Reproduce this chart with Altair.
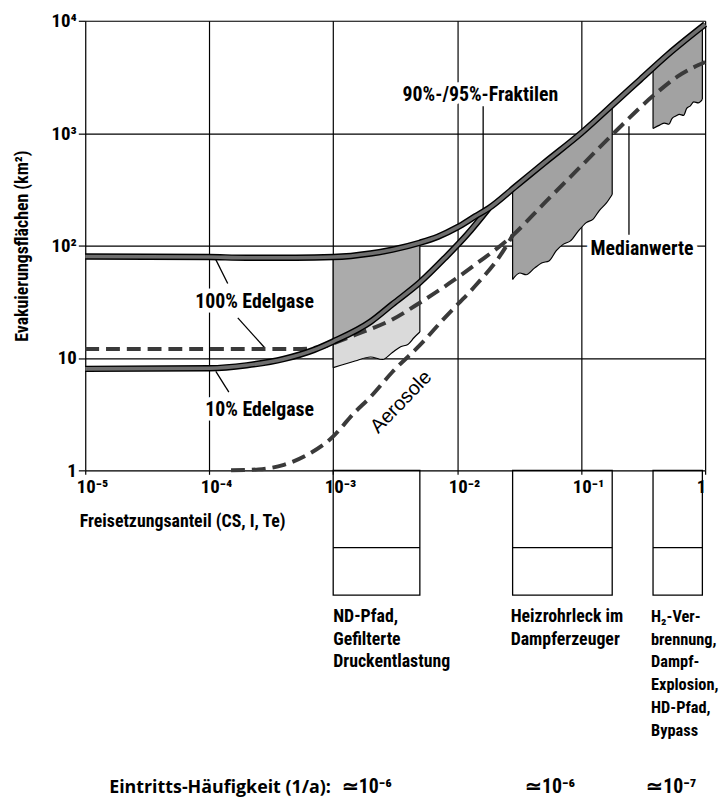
import json
import altair as alt
import pandas as pd

COND = "'Roboto Condensed', 'Open Sans Condensed', sans-serif"
PLAIN = "'Liberation Sans', Arial, sans-serif"
HUMAN = "'Open Sans', Lato, sans-serif"

# ---------------- axis ticks ----------------
x_ticks = [1e-5, 1e-4, 1e-3, 1e-2, 1e-1, 1]
x_tick_labels = ["10⁻⁵", "10⁻⁴", "10⁻³", "10⁻²", "10⁻¹", "\u20091"]
y_ticks = [1, 10, 100, 1000, 10000]
y_tick_labels = ["1\u2002", "10\u2002", "10²", "10³", "10⁴"]

# ---------------- curves ----------------
# upper solid curve (100% Edelgase / 95%-Fraktile)
upper_x = [1e-5, 1e-4, 2e-4, 5e-4, 1e-3, 2e-3, 3e-3, 5e-3, 7e-3, 1e-2, 1.4e-2, 1.8e-2,
           3e-2, 5e-2, 0.1, 0.2, 0.3, 0.5, 0.7, 1.0]
upper_y = [80, 79, 78, 78, 79, 85, 92, 106, 120, 145, 182, 215,
           340, 540, 1000, 2000, 3000, 5000, 6800, 9300]
# lower solid curve (10% Edelgase / 90%-Fraktile)
lower_x = [1e-5, 1e-4, 2e-4, 4e-4, 7e-4, 1e-3, 2e-3, 3e-3, 5e-3, 8e-3, 1.2e-2, 1.8e-2]
lower_y = [8.0, 8.1, 8.6, 9.8, 11.8, 14, 21, 30, 47, 78, 125, 215]
# median, noble gases, continuing as common median
med_ng_x = [1e-5, 1e-4, 5e-4, 8e-4, 1e-3, 1.5e-3, 3e-3, 5e-3, 8.6e-3, 1.43e-2, 2.8e-2,
            5e-2, 0.1, 0.19, 0.39, 0.6, 1.0]
med_ng_y = [12, 12, 12, 12.5, 13.5, 16, 22, 31, 46, 69, 123,
            236, 510, 1040, 2200, 3200, 4300]
# median, aerosols
med_ae_x = [1.5e-4, 2.5e-4, 4e-4, 6e-4, 9.5e-4, 1.5e-3, 2e-3, 3e-3, 5e-3, 8e-3, 1.43e-2, 2.2e-2, 2.8e-2]
med_ae_y = [1.0, 1.02, 1.12, 1.35, 1.9, 3.3, 4.5, 7.5, 13, 23, 45, 80, 123]

# ---------------- shaded ranges ----------------
nd_x = [1e-3, 1.5e-3, 2e-3, 2.5e-3, 3e-3, 3.5e-3, 4e-3, 4.5e-3, 5e-3]
nd_top = [79, 82, 85, 88, 92, 96, 99, 103, 106]
nd_mid = [14, 17.5, 21, 25, 30, 35, 39, 43, 47]
nd_bottom = [8.2, 9.4, 10.2, 9.7, 11.2, 12.6, 13.2, 15.2, 17]

hz_x = [0.028, 0.032, 0.036, 0.042, 0.048, 0.055, 0.063, 0.072, 0.082, 0.095, 0.11, 0.125, 0.14, 0.16, 0.178]
hz_top = [320, 359, 398, 457, 515, 581, 656, 738, 830, 945, 1100, 1250, 1400, 1600, 1780]
hz_bottom = [50, 57, 55, 63, 70, 73, 90, 103, 110, 135, 160, 172, 205, 240, 285]

rt_x = [0.38, 0.43, 0.47, 0.51, 0.54, 0.58, 0.62, 0.67, 0.71, 0.76, 0.81, 0.88, 0.95]
rt_top = [3800, 4300, 4700, 5100, 5400, 5800, 6150, 6550, 6950, 7450, 7900, 8600, 9100]
rt_bottom = [1100, 1180, 1230, 1200, 1350, 1420, 1470, 1440, 1660, 1750, 1900, 1860, 2000]

edge_x = [1e-3, 5e-3, 0.028, 0.178, 0.38, 0.95]
edge_lo = [8.2, 17, 50, 285, 1100, 2000]
edge_hi = [79, 106, 320, 1780, 3800, 9100]

# ---------------- release-path boxes below the axis ----------------
box_x1 = [1e-3, 0.028, 0.38]
box_x2 = [5e-3, 0.178, 0.95]
box_top = [1.0, 1.0, 1.0]
box_mid = [0.2055, 0.2055, 0.2055]
box_bottom = [0.0776, 0.0776, 0.0776]

case_text = ["ND-Pfad,\nGefilterte\nDruckentlastung",
             "Heizrohrleck im\nDampferzeuger"]
case_x = [1.0e-3, 0.027]
case_y = [0.0449, 0.0449]
case3_text = ["H₂-Ver-\nbrennung,\nDampf-\nExplosion,\nHD-Pfad,\nBypass"]
case3_x = [0.366]
case3_y = [0.0449]

freq_head = ["Eintritts-Häufigkeit (1/a):"]
freq_head_x = [1.56e-5]
freq_text = ["≃10⁻⁶", "≃10⁻⁶", "≃10⁻⁷"]
freq_x = [1.17e-3, 0.0352, 0.335]
freq_y = [1.34e-3, 1.34e-3, 1.34e-3]

# ---------------- labels in the plot ----------------
lab_text = ["90%-/95%-Fraktilen", "Medianwerte", "100% Edelgase", "10% Edelgase"]
lab_x = [0.0154, 0.31, 2.32e-4, 2.55e-4]
lab_y = [1930, 83, 27.9, 3.05]

ae_text = ["Aerosole"]
ae_x = [3.53e-3]
ae_y = [4.05]

lead_x1 = [0.0162, 0.243, 1.41e-4, 1.7e-4, 1.44e-4]
lead_y1 = [1740, 125, 46, 22.7, 4.97]
lead_x2 = [0.0162, 0.243, 1.13e-4, 2.79e-4, 1.13e-4]
lead_y2 = [210, 1150, 75, 12.4, 7.6]

# ---------------- scales / axes ----------------
xscale = alt.Scale(type="log", domain=[1e-5, 1])
yscale = alt.Scale(type="log", domain=[1, 1e4])

x_axis = alt.Axis(
    values=x_ticks,
    labelExpr=json.dumps(x_tick_labels, ensure_ascii=False) + "[round(log(datum.value)/LN10)+5]",
    grid=True, gridColor="black", gridWidth=1.2, gridOpacity=1,
    domain=False, ticks=True, tickSize=4, tickColor="black", tickWidth=1.2,
    labelFont=COND, labelFontSize=19, labelFontWeight="bold", labelColor="black",
    labelAlign="left", labelOffset=-9, labelPadding=3, labelFlush=False, labelOverlap=False,
    title="Freisetzungsanteil (CS, I, Te)", titleFont=COND, titleFontSize=18,
    titleFontWeight="bold", titleColor="black", titleX=-6, titleY=57,
    titleAlign="left", titleAnchor="start", titleBaseline="alphabetic",
)
y_axis = alt.Axis(
    values=y_ticks,
    labelExpr=json.dumps(y_tick_labels, ensure_ascii=False) + "[round(log(datum.value)/LN10)]",
    grid=True, gridColor="black", gridWidth=1.2, gridOpacity=1,
    domain=False, ticks=True, tickSize=7, tickColor="black", tickWidth=1.2,
    labelFont=COND, labelFontSize=19, labelFontWeight="bold", labelColor="black",
    labelPadding=2, labelFlush=False, labelOverlap=False,
    title="Evakuierungsflächen (km²)", titleFont=COND, titleFontSize=18,
    titleFontWeight="bold", titleColor="black", titleX=-63, titleY=227,
    titleBaseline="middle", titleAlign="center", titleAngle=270,
)


def X(field="x"):
    return alt.X(f"{field}:Q", scale=xscale, axis=x_axis)


def Y(field="y"):
    return alt.Y(f"{field}:Q", scale=yscale, axis=y_axis)


def frame(**cols):
    return pd.DataFrame(cols)


layers = []

# shaded ranges
layers.append(alt.Chart(frame(x=nd_x, y=nd_bottom, y2=nd_top)).mark_area(
    color="#dadada", interpolate="monotone").encode(x=X(), y=Y(), y2="y2:Q"))
layers.append(alt.Chart(frame(x=nd_x, y=nd_mid, y2=nd_top)).mark_area(
    color="#ababab", interpolate="monotone").encode(x=X(), y=Y(), y2="y2:Q"))
layers.append(alt.Chart(frame(x=hz_x, y=hz_bottom, y2=hz_top)).mark_area(
    color="#a2a2a2", interpolate="monotone").encode(x=X(), y=Y(), y2="y2:Q"))
layers.append(alt.Chart(frame(x=rt_x, y=rt_bottom, y2=rt_top)).mark_area(
    color="#a2a2a2", interpolate="monotone").encode(x=X(), y=Y(), y2="y2:Q"))

# range borders
for bx, by in [(nd_x, nd_bottom), (hz_x, hz_bottom), (rt_x, rt_bottom)]:
    layers.append(alt.Chart(frame(x=bx, y=by)).mark_line(
        color="black", strokeWidth=1.2, interpolate="monotone").encode(x=X(), y=Y()))
layers.append(alt.Chart(frame(x=edge_x, y=edge_lo, y2=edge_hi)).mark_rule(
    color="black", strokeWidth=1.2).encode(x=X(), y=Y(), y2="y2:Q"))

# boxes below the axis
layers.append(alt.Chart(frame(x=box_x1, x2=box_x2, y=box_top, y2=box_bottom)).mark_rect(
    fillOpacity=0, stroke="black", strokeWidth=1.3).encode(x=X(), x2="x2:Q", y=Y(), y2="y2:Q"))
layers.append(alt.Chart(frame(x=box_x1, x2=box_x2, y=box_mid)).mark_rule(
    color="black", strokeWidth=1.2).encode(x=X(), x2="x2:Q", y=Y()))

# leader lines
layers.append(alt.Chart(frame(x=lead_x1, y=lead_y1, x2=lead_x2, y2=lead_y2)).mark_rule(
    color="black", strokeWidth=1.3).encode(x=X(), y=Y(), x2="x2:Q", y2="y2:Q"))

# median lines (dashed)
layers.append(alt.Chart(frame(x=med_ae_x, y=med_ae_y)).mark_line(
    color="#3a3a3a", strokeWidth=4, strokeDash=[14, 7], interpolate="monotone").encode(x=X(), y=Y()))
layers.append(alt.Chart(frame(x=med_ng_x, y=med_ng_y)).mark_line(
    color="#3a3a3a", strokeWidth=4, strokeDash=[14, 7], interpolate="monotone").encode(x=X(), y=Y()))

# fractile curves (solid, outlined)
for cx, cy in [(lower_x, lower_y), (upper_x, upper_y)]:
    layers.append(alt.Chart(frame(x=cx, y=cy)).mark_line(
        color="black", strokeWidth=6.5, interpolate="monotone").encode(x=X(), y=Y()))
    layers.append(alt.Chart(frame(x=cx, y=cy)).mark_line(
        color="#6e6e6e", strokeWidth=3.6, interpolate="monotone").encode(x=X(), y=Y()))

# labels with white halo
lab_df = frame(x=lab_x, y=lab_y, t=lab_text)
layers.append(alt.Chart(lab_df).mark_text(
    font=COND, fontSize=20, fontWeight="bold", align="center", baseline="alphabetic",
    color="white", stroke="white", strokeWidth=9, strokeJoin="round").encode(x=X(), y=Y(), text="t:N"))
layers.append(alt.Chart(lab_df).mark_text(
    font=COND, fontSize=20, fontWeight="bold", align="center", baseline="alphabetic",
    color="black").encode(x=X(), y=Y(), text="t:N"))

layers.append(alt.Chart(frame(x=ae_x, y=ae_y, t=ae_text)).mark_text(
    font=PLAIN, fontSize=20, align="center", baseline="middle", angle=314,
    color="black").encode(x=X(), y=Y(), text="t:N"))

# cases and frequencies below the plot
layers.append(alt.Chart(frame(x=case_x, y=case_y, t=case_text)).mark_text(
    font=COND, fontSize=18, fontWeight="bold", align="left", baseline="alphabetic",
    lineBreak="\n", lineHeight=23, color="black").encode(x=X(), y=Y(), text="t:N"))
layers.append(alt.Chart(frame(x=case3_x, y=case3_y, t=case3_text)).mark_text(
    font=COND, fontSize=16.5, fontWeight="bold", align="left", baseline="alphabetic",
    lineBreak="\n", lineHeight=23, color="black").encode(x=X(), y=Y(), text="t:N"))
layers.append(alt.Chart(frame(x=freq_head_x, y=freq_y[:1], t=freq_head)).mark_text(
    font=HUMAN, fontSize=18, fontWeight="bold", align="left", baseline="alphabetic",
    color="black").encode(x=X(), y=Y(), text="t:N"))
layers.append(alt.Chart(frame(x=freq_x, y=freq_y, t=freq_text)).mark_text(
    font=COND, fontSize=20, fontWeight="bold", align="left", baseline="alphabetic",
    color="black").encode(x=X(), y=Y(), text="t:N"))

chart = alt.layer(*layers).properties(
    width=626, height=454,
    padding={"left": 78, "top": 9, "right": 14, "bottom": 330},
    autosize=alt.AutoSizeParams(type="none"),
).configure_view(stroke="black", strokeWidth=1.5).configure(background="white")

chart.save("out.html", embed_options={"renderer": "svg", "actions": False})
